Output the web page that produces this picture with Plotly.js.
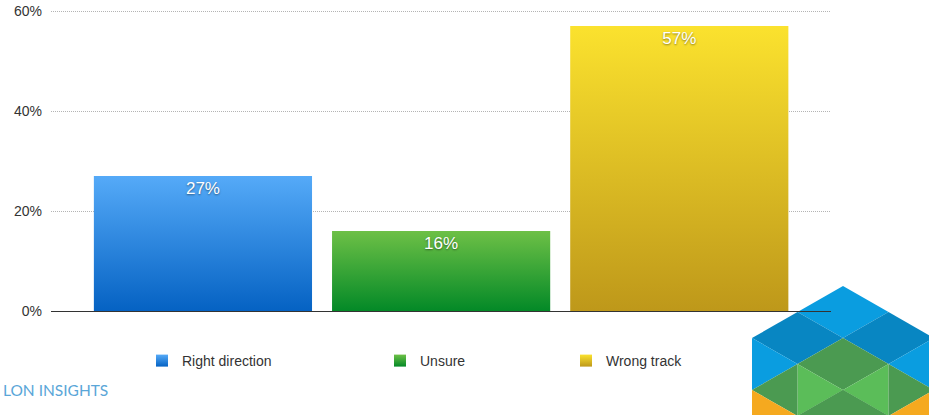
<!DOCTYPE html>
<html>
<head>
<meta charset="utf-8">
<script src="https://cdn.plot.ly/plotly-3.0.1.min.js"></script>
<style>html,body{margin:0;padding:0;background:#fff;}#chart{width:929px;height:415px;}</style>
</head>
<body>
<div id="chart"></div>
<script>
// ---- data ----
const categories = ['Right direction', 'Unsure', 'Wrong track'];
const values = [27, 16, 57];
const yTickVals = [0, 20, 40, 60];
const yTickText = ['0%', '20%', '40%', '60%'];
const brandText = 'LON INSIGHTS';

// ---- styles ----
const gradients = [
  ['#55aaf8', '#0562c3'],
  ['#6dc046', '#038927'],
  ['#fbe22e', '#be981a']
];
const W = 929, H = 415;
const M = {l: 51, r: 98, t: 6, b: 104};
const pw = W - M.l - M.r, ph = H - M.t - M.b;
const px = x => (x - M.l) / pw;
const py = y => (H - M.b - y) / ph;

const legendNames = ['legend', 'legend2', 'legend3'];
const traces = categories.map((c, i) => ({
  type: 'bar',
  name: c,
  x: [c],
  y: [values[i]],
  width: 0.916,
  marker: {color: gradients[i][1], line: {width: 0}},
  text: [values[i] + '%'],
  textposition: 'inside',
  insidetextanchor: 'end',
  textangle: 0,
  textfont: {family: 'Liberation Sans, Arial, sans-serif', size: 17, color: '#ffffff', shadow: '0px 1px 2px rgba(0,0,0,0.45)'},
  legend: legendNames[i],
  hoverinfo: 'skip'
}));

// logo (decoration) from triangle lattice
const T = [843, 286], dx = 45.5, dy = 26;
const L = (i, j) => [px(T[0] + i * dx), py(T[1] + j * dy)];
const poly = pts => 'M' + pts.map(p => { const q = L(p[0], p[1]); return q[0] + ',' + q[1]; }).join(' L') + ' Z';
const LB = '#0a9de0', DB = '#0886c2', DG = '#4b9a51', LG = '#5bbd59', OR = '#f5a91f';
const logo = [
  [[[0,0],[-1,1],[0,2],[1,1]], LB],
  [[[-1,1],[-2,2],[-1,3],[0,2]], DB],
  [[[1,1],[0,2],[1,3],[2,2]], DB],
  [[[-2,2],[-1,3],[-2,4]], LB],
  [[[2,2],[1,3],[2,4]], LB],
  [[[0,2],[-1,3],[0,4],[1,3]], DG],
  [[[-1,3],[0,4],[-1,5]], LG],
  [[[1,3],[0,4],[1,5]], LG],
  [[[-2,4],[-1,3],[-1,5]], DG],
  [[[2,4],[1,3],[1,5]], DG],
  [[[0,4],[-1,5],[1,5]], DG],
  [[[-2,4],[-1,5],[-2,6]], OR],
  [[[2,4],[1,5],[2,6]], OR],
  [[[-1,5],[0,6],[1,5],[0,4]], DG]
];
const shapes = logo.map(([pts, col]) => ({
  type: 'path', xref: 'paper', yref: 'paper', path: poly(pts),
  fillcolor: col, line: {width: 0}, layer: 'below'
}));

const legFont = {family: 'Liberation Sans, Arial, sans-serif', size: 14, color: '#333333'};
const legX = [142, 380, 566];
const legCommon = {orientation: 'h', yanchor: 'middle', xanchor: 'left', y: py(361), font: legFont, bgcolor: 'rgba(0,0,0,0)', itemclick: false};

const layout = {
  width: W, height: H,
  margin: M,
  paper_bgcolor: '#ffffff', plot_bgcolor: 'rgba(0,0,0,0)',
  barmode: 'overlay',
  showlegend: true,
  legend: Object.assign({}, legCommon, {x: px(legX[0])}),
  legend2: Object.assign({}, legCommon, {x: px(legX[1])}),
  legend3: Object.assign({}, legCommon, {x: px(legX[2])}),
  xaxis: {
    type: 'category', categoryarray: categories, range: [-0.638, 2.637],
    showticklabels: false, showgrid: false, zeroline: false, showline: false, ticks: ''
  },
  yaxis: {
    range: [0, 61], tickvals: yTickVals, ticktext: yTickText,
    showgrid: true, gridcolor: '#b4b4b4', griddash: '1px,1px', gridwidth: 1,
    zeroline: true, zerolinecolor: '#333333', zerolinewidth: 1,
    showline: false, ticks: '', ticklabelstandoff: 8,
    tickfont: {family: 'Liberation Sans, Arial, sans-serif', size: 14, color: '#333333'}
  },
  shapes: shapes,
  annotations: [{
    text: brandText, xref: 'paper', yref: 'paper', x: px(1), y: py(390),
    xanchor: 'left', yanchor: 'middle', showarrow: false,
    font: {family: 'Lato, Open Sans, sans-serif', size: 15.5, color: '#5aa6d8'}
  }]
};

Plotly.newPlot('chart', traces, layout, {staticPlot: true, displayModeBar: false}).then(gd => {
  const svg = gd.querySelector('svg.main-svg');
  const NS = 'http://www.w3.org/2000/svg';
  let defs = svg.querySelector('defs');
  if (!defs) { defs = document.createElementNS(NS, 'defs'); svg.insertBefore(defs, svg.firstChild); }
  gradients.forEach((g, i) => {
    const lg = document.createElementNS(NS, 'linearGradient');
    lg.setAttribute('id', 'barGrad' + i);
    lg.setAttribute('x1', '0'); lg.setAttribute('y1', '0');
    lg.setAttribute('x2', '0'); lg.setAttribute('y2', '1');
    [[0, g[0]], [1, g[1]]].forEach(([o, c]) => {
      const s = document.createElementNS(NS, 'stop');
      s.setAttribute('offset', o); s.setAttribute('stop-color', c);
      lg.appendChild(s);
    });
    defs.appendChild(lg);
  });
  gd.querySelectorAll('.barlayer .trace.bars').forEach((t, i) => {
    t.querySelectorAll('.point path').forEach(p => { p.style.fill = 'url(#barGrad' + i + ')'; });
  });
  gd.querySelectorAll('.legendpoints path').forEach((p, i) => { if (i < 3) p.style.fill = 'url(#barGrad' + i + ')'; });
});
</script>
</body>
</html>
